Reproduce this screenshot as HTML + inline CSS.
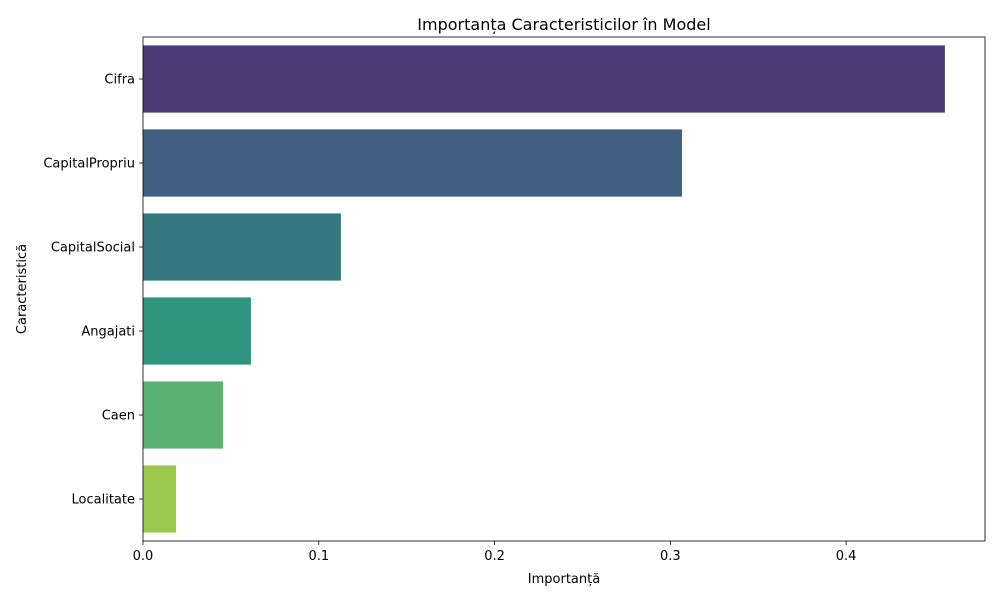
<!DOCTYPE html>
<html><head><meta charset="utf-8">
<style>
body{margin:0;background:#fff;}
svg text{font-family:"DejaVu Sans","Liberation Sans",sans-serif;fill:#000;}
</style></head>
<body>
<svg id="chart" width="1000" height="600" viewBox="0 0 1000 600" xmlns="http://www.w3.org/2000/svg">
<text x="564" y="30" font-size="16" text-anchor="middle">Importanța Caracteristicilor în Model</text>
<text x="564" y="583" font-size="13" text-anchor="middle">Importanță</text>
<text x="26" y="289" font-size="13" text-anchor="middle" transform="rotate(-90 26 289)">Caracteristică</text>
<g id="bars"></g>
<g id="axes"></g>
</svg>
<script>
const categories = ["Cifra","CapitalPropriu","CapitalSocial","Angajati","Caen","Localitate"];
const values = [0.4562,0.3066,0.1126,0.0614,0.0455,0.0188];
const colors = ["#4b3c77","#415e83","#347880","#30957f","#5bb373","#9cc94b"];
const xTicks = [0,0.1,0.2,0.3,0.4];
const xTickLabels = ["0.0","0.1","0.2","0.3","0.4"];

const L=143,R=985,T=37,B=541;
const xMax=0.479;
const x=v=>L+(v/xMax)*(R-L);
const band=(B-T)/categories.length;
const y=i=>T+i*band;
const ns="http://www.w3.org/2000/svg";
const bars=document.getElementById('bars'), axes=document.getElementById('axes');
function mk(tag,attrs,parent){const e=document.createElementNS(ns,tag);for(const k in attrs)e.setAttribute(k,attrs[k]);parent.appendChild(e);return e;}

categories.forEach((c,i)=>{
  const r=mk('rect',{x:L,y:y(i)+band*0.1,width:x(values[i])-L,height:band*0.8,fill:colors[i]},bars);
  
  
  const cy=y(i)+band/2;
  const t=mk('line',{x1:L-4,x2:L,y1:cy,y2:cy,stroke:'#000','stroke-width':0.8},axes);
  
  
  const lb=mk('text',{x:L-8,y:cy+4.5,'font-size':13,'text-anchor':'end'},axes);
  lb.textContent=c;
  
  
});
xTicks.forEach((v,i)=>{
  const t=mk('line',{x1:x(v),x2:x(v),y1:B,y2:B+4,stroke:'#000','stroke-width':0.8},axes);
  
  
  const lb=mk('text',{x:x(v),y:B+19,'font-size':13,'text-anchor':'middle'},axes);
  lb.textContent=xTickLabels[i];
  
  
});
const frame=mk('rect',{x:L,y:T,width:R-L,height:B-T,fill:'none',stroke:'#000','stroke-width':0.8},axes);


</script>
</body></html>
